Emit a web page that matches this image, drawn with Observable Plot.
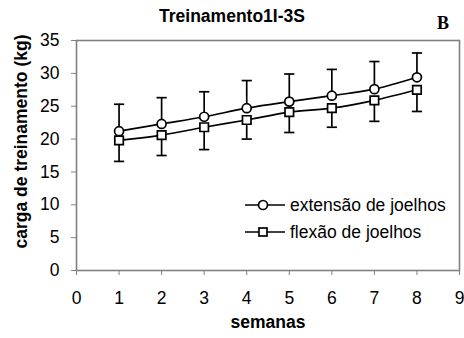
<!DOCTYPE html>
<html><head><meta charset="utf-8">
<script src="https://cdn.jsdelivr.net/npm/d3@7"></script>
<script src="https://cdn.jsdelivr.net/npm/@observablehq/plot@0.6"></script>
<style>
body{margin:0;background:#fff;font-family:"Liberation Sans",Arial,sans-serif;}
#wrap{position:relative;width:464px;height:338px;}
#title{position:absolute;top:6px;left:0;width:464px;text-align:center;font-weight:bold;font-size:17.5px;line-height:20px;}
#B{position:absolute;top:13px;left:437px;font-family:"Liberation Serif","Times New Roman",serif;font-weight:bold;font-size:18px;line-height:20px;}
.leg{position:absolute;left:245px;font-size:17.5px;line-height:20px;display:flex;align-items:center;}
.leg svg{margin-right:5px;}
</style></head>
<body><div id="wrap"><div id="chart"></div>
<div id="title">Treinamento1I-3S</div><div id="B">B</div>
<div class="leg" style="top:195px"><svg width="40" height="14"><line x1="0" y1="7" x2="40" y2="7" stroke="#000" stroke-width="1.7"/><circle cx="18" cy="7" r="4.5" fill="#fff" stroke="#000" stroke-width="1.7"/></svg><span>extensão de joelhos</span></div>
<div class="leg" style="top:222px"><svg width="40" height="14"><line x1="0" y1="7" x2="40" y2="7" stroke="#000" stroke-width="1.7"/><rect x="14" y="3" width="8" height="8" fill="#fff" stroke="#000" stroke-width="1.7"/></svg><span>flexão de joelhos</span></div>
</div>
<script>
const semanas = [1,2,3,4,5,6,7,8];
const extensao = [21.2,22.3,23.4,24.7,25.7,26.6,27.6,29.4];
const extensaoSup = [25.3,26.3,27.2,28.9,29.9,30.6,31.8,33.1];
const flexao = [19.8,20.6,21.8,22.9,24.1,24.7,25.9,27.5];
const flexaoInf = [16.6,17.5,18.4,20.0,21.0,21.8,22.7,24.2];
const xTicks = [0,1,2,3,4,5,6,7,8,9];
const yTicks = [0,5,10,15,20,25,30,35];

const ext = semanas.map((w,i)=>({w, v:extensao[i], e:extensaoSup[i]}));
const flx = semanas.map((w,i)=>({w, v:flexao[i], e:flexaoInf[i]}));
const cap = 0.12;
const sw = 1.7;

const chart = Plot.plot({
  width:464, height:338,
  marginLeft:76, marginRight:5, marginTop:40, marginBottom:68,
  style:{fontFamily:"'Liberation Sans',Arial,sans-serif", fontSize:"17.5px", color:"#000", overflow:"visible"},
  x:{domain:[0,9], label:null},
  y:{domain:[0,35], label:null},
  marks:[
    Plot.frame({stroke:"#808080", strokeWidth:1.6}),
    Plot.axisX({ticks:xTicks, tickSize:5, tickPadding:16, stroke:"#808080", fontSize:17.5, label:null, tickFormat:d=>d}),
    Plot.axisY({ticks:yTicks, tickSize:5, tickPadding:12, stroke:"#808080", fontSize:17.5, label:null}),
    Plot.ruleX(ext,{x:"w", y1:"v", y2:"e", stroke:"#000", strokeWidth:sw}),
    Plot.link(ext,{x1:d=>d.w-cap, x2:d=>d.w+cap, y1:"e", y2:"e", stroke:"#000", strokeWidth:sw}),
    Plot.ruleX(flx,{x:"w", y1:"v", y2:"e", stroke:"#000", strokeWidth:sw}),
    Plot.link(flx,{x1:d=>d.w-cap, x2:d=>d.w+cap, y1:"e", y2:"e", stroke:"#000", strokeWidth:sw}),
    Plot.line(ext,{x:"w", y:"v", curve:"catmull-rom", stroke:"#000", strokeWidth:sw}),
    Plot.line(flx,{x:"w", y:"v", curve:"catmull-rom", stroke:"#000", strokeWidth:sw}),
    Plot.dot(ext,{x:"w", y:"v", r:4.5, fill:"#fff", stroke:"#000", strokeWidth:sw}),
    Plot.dot(flx,{x:"w", y:"v", symbol:"square", r:4.8, fill:"#fff", stroke:"#000", strokeWidth:sw}),
    Plot.text(["semanas"],{frameAnchor:"bottom", dy:57, fontWeight:"bold", fontSize:17.5}),
    Plot.text(["carga de treinamento (kg)"],{frameAnchor:"left", dx:-55, dy:-14, rotate:-90, textAnchor:"middle", fontWeight:"bold", fontSize:17.5})
  ]
});
document.getElementById("chart").append(chart);
</script></body></html>
